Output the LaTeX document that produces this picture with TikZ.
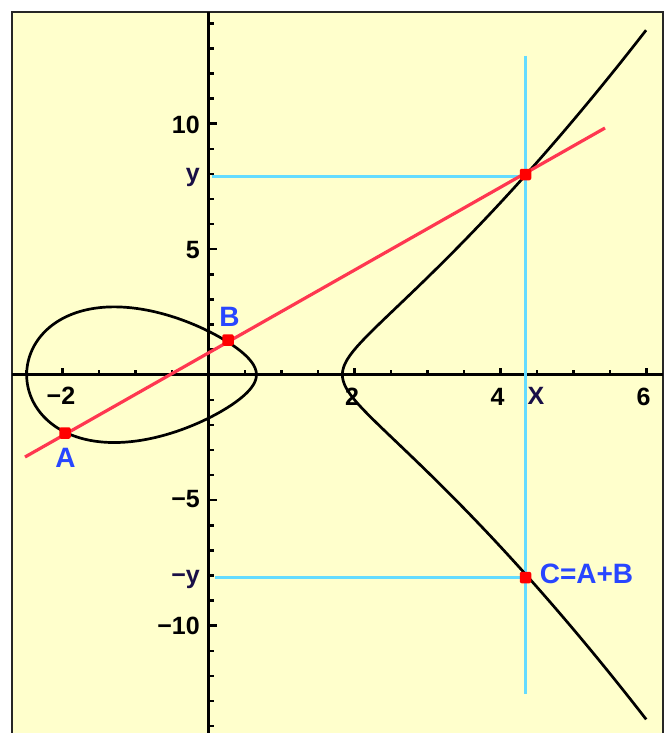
\documentclass[tikz,border=0pt]{standalone}
\usepackage{fontspec}
\setmainfont{Liberation Sans}
\definecolor{bg}{RGB}{255,255,204}
\definecolor{cyanl}{RGB}{100,220,255}
\definecolor{redl}{RGB}{255,55,80}
\definecolor{bluel}{RGB}{40,70,255}
\definecolor{navy}{RGB}{25,15,70}
\begin{document}
\begin{tikzpicture}[x=1pt,y=-1pt,
  ticklbl/.style={font=\fontsize{25}{25}\selectfont\bfseries, inner sep=0pt},
  ptlbl/.style={font=\fontsize{28}{28}\selectfont\bfseries, text=bluel, inner sep=0pt},
  dot/.style={rectangle, rounded corners=2pt, fill=red, inner sep=0pt, minimum size=11.5pt},
  guide/.style={cyanl, line width=3pt},
  axis/.style={line width=3pt, black},
  tickmark/.style={line width=2.5pt, black},
  curve/.style={line width=2.7pt, black, line join=round},
  secant/.style={redl, line width=3.2pt}]
\useasboundingbox (0,0) rectangle (670,733);
\fill[white] (0,0) rectangle (670,733);
\fill[bg] (12,12) rectangle (663,733);
\draw[line width=2.4pt, black!85] (12,733) -- (12,12) -- (663,12) -- (663,733);
% axes
\coordinate (ytop) at (208.5,12);
\coordinate (ybot) at (208.5,733);
\coordinate (xl) at (12,374.7);
\coordinate (xr) at (663,374.7);
\draw[axis] (ytop) -- (ybot);
\draw[axis] (xl) -- (xr);
% y ticks
\foreach \k in {-14,-13,-12,-11,-9,-8,-7,-6,-4,-3,-2,-1,1,2,3,4,6,7,8,9,11,12,13,14}
  \draw[tickmark] (208.5,{374.7-25.1*\k}) -- ++(5,0);
\foreach \k in {-10,-5,5,10}
  \draw[tickmark] (208.5,{374.7-25.1*\k}) -- ++(8,0);
% x ticks
\foreach \k in {-2.5,-1.5,-1,-0.5,0.5,1,1.5,2.5,3,3.5,4.5,5,5.5}
  \draw[tickmark] ({208.5+73*\k},374.7) -- ++(0,-4.5);
\foreach \k in {-2,2,4,6}
  \draw[tickmark] ({208.5+73*\k},374.7) -- ++(0,-7);
% guides
\coordinate (vtop) at (525.5,56);
\coordinate (vbot) at (525.5,694);
\coordinate (h1s) at (212,176);
\coordinate (h1e) at (525.5,176);
\coordinate (h2s) at (215,577.5);
\coordinate (h2e) at (525.5,577.5);
\draw[guide] (vtop) -- (vbot);
\draw[guide] (h1s) -- (h1e);
\draw[guide] (h2s) -- (h2e);
% elliptic curve y^2 = x^3 - 5x + 3
\begin{scope}[shift={(208.5,374.7)}, x=73pt, y=25.1pt]
  \draw[curve] plot[domain=0:180, samples=241, smooth, variable=\t]
    ({-2.49082+3.14744*sin(\t)^2},
     {3.14744*sin(\t)*cos(\t)*sqrt(4.32502-3.14744*sin(\t)^2)}) -- cycle;
  \draw[curve] plot[domain=-2.04:2.04, samples=161, smooth, variable=\s]
    ({1.8342+(\s)*(\s)},
     {(\s)*sqrt((4.32502+(\s)*(\s))*(1.17758+(\s)*(\s)))});
\end{scope}
% secant line
\coordinate (r1) at (25,457);
\coordinate (r2) at (605,128);
\draw[secant] (r1) -- (r2);
% points
\node[dot] (A) at (65,433) {};
\node[dot] (B) at (228,340) {};
\node[dot] (P) at (525.5,174.5) {};
\node[dot] (C) at (525.5,577.5) {};
% point labels
\node[ptlbl] (lA) at (65.5,458) {A};
\node[ptlbl] (lB) at (229.5,317) {B};
\node[ptlbl] (lC) at (586.5,574) {C=A+B};
% y tick labels
\node[ticklbl, anchor=east] (y10) at (200,125) {10};
\node[ticklbl, anchor=east, text=navy] (yy) at (200,177) {y};
\node[ticklbl, anchor=east] (y5) at (200,250) {5};
\node[ticklbl, anchor=east] (ym5) at (200,499) {−5};
\node[ticklbl, anchor=east, text=navy] (ymy) at (200,579) {−y};
\node[ticklbl, anchor=east] (ym10) at (200,626) {−10};
% x tick labels
\node[ticklbl] (xm2) at (61,396) {−2};
\node[ticklbl] (x2) at (352,397) {2};
\node[ticklbl] (x4) at (497.5,397) {4};
\node[ticklbl, text=navy] (xX) at (536,396) {X};
\node[ticklbl] (x6) at (643.5,397) {6};
\end{tikzpicture}
\end{document}
